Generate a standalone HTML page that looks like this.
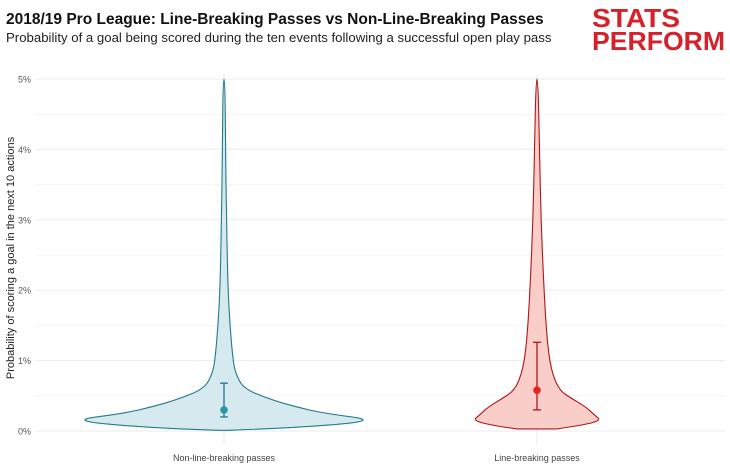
<!DOCTYPE html>
<html><head><meta charset="utf-8"><style>
body{margin:0;background:#fff;width:730px;height:475px;overflow:hidden}
svg{display:block;font-family:"Liberation Sans",sans-serif}
</style></head><body>
<svg id="chart" width="730" height="475">
<text x="6" y="24" font-size="15.5" font-weight="bold" fill="#111">2018/19 Pro League: Line-Breaking Passes vs Non-Line-Breaking Passes</text>
<text x="6" y="42" font-size="13.2" fill="#222">Probability of a goal being scored during the ten events following a successful open play pass</text>
<g fill="#d6202a" font-weight="bold" font-size="26">
<text x="592" y="27" textLength="88" lengthAdjust="spacingAndGlyphs">STATS</text>
<text x="592" y="50" textLength="133" lengthAdjust="spacingAndGlyphs">PERFORM</text>
</g>
<text transform="translate(14,258) rotate(-90)" text-anchor="middle" font-size="11" fill="#222">Probability of scoring a goal in the next 10 actions</text>
<g id="grid"></g><g id="violins"></g>
</svg>
<script>
const categories=["Non-line-breaking passes","Line-breaking passes"];
const yTicks=[0,1,2,3,4,5];
const nlbValues=[0.01,0.05,0.15,0.25,0.35,0.45,0.6,0.8,1.0,1.5,2,3,4,5];
const nlbWidths=[5,80,155,100,70,46,20,12,9,6,4,2.5,1.5,1];
const lbValues=[0.03,0.08,0.15,0.22,0.34,0.45,0.58,0.87,1.3,2,3,4,5];
const lbWidths=[20,45,64,58,49,36,22,14,10,7,4,2.5,1];
const means=[0.3,0.58];
const lowers=[0.2,0.3];
const uppers=[0.68,1.26];
const NS="http://www.w3.org/2000/svg";
const y=v=>431-v*70.4;
const x=i=>224+i*313;
function mk(t,a,p){const e=document.createElementNS(NS,t);for(const k in a)e.setAttribute(k,a[k]);p.appendChild(e);return e;}
function smooth(pts){let d='M'+pts[0][0]+','+pts[0][1];
 for(let i=1;i<pts.length-1;i++){const mx=(pts[i][0]+pts[i+1][0])/2,my=(pts[i][1]+pts[i+1][1])/2;d+=' Q'+pts[i][0]+','+pts[i][1]+' '+mx+','+my;}
 const L=pts[pts.length-1];return d+' L'+L[0]+','+L[1]+' Z';}
const grid=document.getElementById('grid');
for(let t=0;t<=5;t+=0.5){
 const l=mk('line',{x1:36,x2:725,y1:y(t),y2:y(t),stroke:Number.isInteger(t)?'#ebebeb':'#f4f4f4','stroke-width':1},grid);
 
 
}
yTicks.forEach(t=>{const tx=mk('text',{x:31,y:y(t)+3.5,'text-anchor':'end','font-size':9,fill:'#555'},grid);tx.textContent=t+'%';
 
 });
categories.forEach((c,i)=>{const l=mk('line',{x1:x(i),x2:x(i),y1:75,y2:445,stroke:'#ebebeb'},grid);
 
 
 const tx=mk('text',{x:x(i),y:461,'text-anchor':'middle','font-size':9,fill:'#444'},grid);tx.textContent=c;
 
 });
const vg=document.getElementById('violins');
const sets=[[nlbValues,nlbWidths,'#1f7a8c','#d6e9ee','#2a97a8'],[lbValues,lbWidths,'#b2141a','#f9cdc8','#e8231b']];
sets.forEach(([vals,ws,st,fi,pc],i)=>{
 const cx=x(i);let r=[],l=[];
 vals.forEach((v,k)=>{r.push([cx+ws[k],y(v)]);l.unshift([cx-ws[k],y(v)]);});
 const p=mk('path',{d:smooth(r.concat(l)),fill:fi,stroke:st,'stroke-width':1.1},vg);
 
 
 const g=mk('g',{stroke:st,'stroke-width':1.3},vg);
 
 
 mk('line',{x1:cx,x2:cx,y1:y(lowers[i]),y2:y(uppers[i])},g);
 mk('line',{x1:cx-4,x2:cx+4,y1:y(lowers[i]),y2:y(lowers[i])},g);
 mk('line',{x1:cx-4,x2:cx+4,y1:y(uppers[i]),y2:y(uppers[i])},g);
 const c=mk('circle',{cx:cx,cy:y(means[i]),r:3.8,fill:pc},vg);
 
 
});
</script>
</body></html>
